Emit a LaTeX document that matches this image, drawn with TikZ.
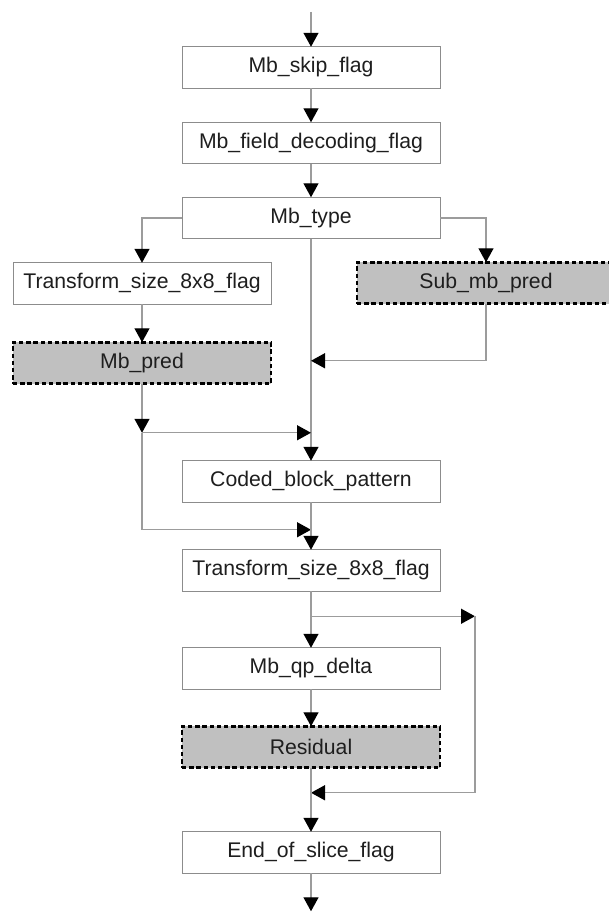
\documentclass[tikz,border=0pt]{standalone}
\usepackage{fontspec}
\setmainfont{Liberation Sans}
\usetikzlibrary{arrows.meta,positioning,calc}
\definecolor{wire}{HTML}{9C9C9C}
\definecolor{edge}{HTML}{8C8C8C}
\definecolor{shade}{HTML}{C0C0C0}
\definecolor{ink}{HTML}{1E1E1E}

\begin{document}
\begin{tikzpicture}[x=0.5pt,y=-0.5pt,
 box/.style={draw=edge,line width=0.5pt,fill=white,text=ink,inner sep=0pt,outer sep=0pt,
 minimum width=129pt,minimum height=20.75pt,font=\fontsize{10.6}{12}\selectfont},
 sub/.style={box,draw=black,line width=1.3pt,dash pattern=on 2.2pt off 1.4pt,fill=shade},
 arr/.style={-{Triangle[length=7pt,width=7.5pt,color=black]},draw=wire,line width=0.7pt},
 line/.style={draw=wire,line width=0.7pt},node distance=17pt]
 \useasboundingbox (0,0) rectangle (609,912);
 \node[box] (skip) at (311,67.5) {Mb\_skip\_flag};
 \node[box,below=17pt of skip] (field) {Mb\_field\_decoding\_flag};
 \node[box,below=16.75pt of field] (mbtype) {Mb\_type};
 \node[box] (tsleft) at ($(mbtype.center)+(-169,65.5)$) {Transform\_size\_8x8\_flag};
 \node[sub,below=19pt of tsleft] (mbpred) {Mb\_pred};
 \node[sub] (subpred) at ($(mbtype.center)+(175,65)$) {Sub\_mb\_pred};
 \node[box,below=111pt of mbtype] (cbp) {Coded\_block\_pattern};
 \node[box,below=23.75pt of cbp] (tsmain) {Transform\_size\_8x8\_flag};
 \node[box,below=28.25pt of tsmain] (qpdelta) {Mb\_qp\_delta};
 \node[sub,below=18.5pt of qpdelta] (resid) {Residual};
 \node[box,below=32pt of resid] (eos) {End\_of\_slice\_flag};
 \coordinate (in) at ($(skip.north)+(0,-35)$);
 \coordinate (out) at ($(eos.south)+(0,38)$);
 \coordinate (s1) at ($(subpred.south)+(0,57)$);
 \coordinate (j1) at ($(mbpred.south)+(0,49)$);
 \coordinate (j2) at ($(j1)+(0,97)$);
 \coordinate (b1) at ($(tsmain.south)+(0,25)$);
 \coordinate (r1) at ($(b1)+(164,0)$);
 \coordinate (b2) at ($(resid.south)+(0,25)$);
 \draw[arr] (in) -- (skip);
 \draw[arr] (skip) -- (field);
 \draw[arr] (field) -- (mbtype);
 \draw[arr] (mbtype.west) -| (tsleft.north);
 \draw[arr] (mbtype.east) -| (subpred.north);
 \draw[arr] (tsleft) -- (mbpred);
 \draw[arr] (mbtype) -- (cbp);
 \draw[arr] (subpred.south) |- (s1 -| mbtype.south);
 \draw[arr] (mbpred.south) -- (j1);
 \draw[arr] (j1) -- (j1 -| mbtype.south);
 \draw[line] (j1) -- (j2);
 \draw[arr] (j2) -- (j2 -| cbp.south);
 \draw[arr] (cbp) -- (tsmain);
 \draw[arr] (tsmain) -- (qpdelta);
 \draw[arr] (b1) -- (r1);
 \draw[arr] (r1) |- (b2);
 \draw[arr] (qpdelta) -- (resid);
 \draw[arr] (resid) -- (eos);
 \draw[arr] (eos) -- (out);
\end{tikzpicture}
\end{document}
